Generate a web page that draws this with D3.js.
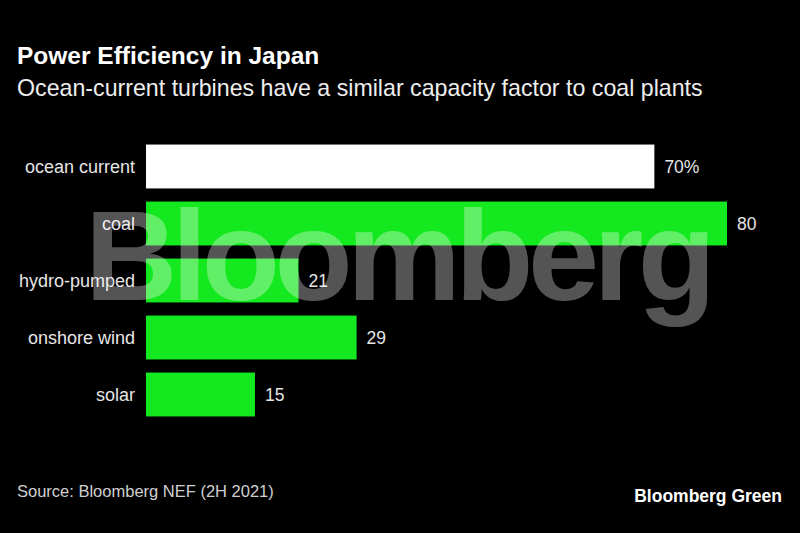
<!DOCTYPE html>
<html><head><meta charset="utf-8">
<script src="https://cdn.jsdelivr.net/npm/d3@7"></script>
<style>html,body{margin:0;padding:0;background:#000;}svg{display:block;}</style>
</head><body>
<svg id="c" width="800" height="533"></svg>
<script>
const categories = ["ocean current","coal","hydro-pumped","onshore wind","solar"];
const values = [70,80,21,29,15];
const valueLabels = ["70%","80","21","29","15"];
const barColors = ["#ffffff","#14e81e","#14e81e","#14e81e","#14e81e"];

const svg = d3.select("#c");
svg.append("rect").attr("width",800).attr("height",533).attr("fill","#000");
const font = "'Liberation Sans', Arial, Helvetica, sans-serif";

svg.append("text").attr("x",17).attr("y",64).attr("fill","#fff")
  .attr("font-family",font).attr("font-weight","bold").attr("font-size",24.5)
  .text("Power Efficiency in Japan");
svg.append("text").attr("x",17).attr("y",96).attr("fill","#eee")
  .attr("font-family",font).attr("font-size",23.2)
  .text("Ocean-current turbines have a similar capacity factor to coal plants");

const x = d3.scaleLinear().domain([0,80]).range([146,727]);
const y = d3.scaleBand().domain(categories).range([138,423]).paddingInner(0.23).paddingOuter(0.115);

svg.selectAll("rect.bar").data(categories).enter().append("rect").attr("class","bar")
  .attr("x",x(0)).attr("y",d=>y(d)).attr("height",y.bandwidth())
  .attr("width",(d,i)=>x(values[i])-x(0)).attr("fill",(d,i)=>barColors[i]);

svg.selectAll("text.cat").data(categories).enter().append("text").attr("class","cat")
  .attr("x",135).attr("y",d=>y(d)+y.bandwidth()/2).attr("dy","0.35em")
  .attr("text-anchor","end").attr("fill","#e6e6e6")
  .attr("font-family",font).attr("font-size",18).text(d=>d);

svg.selectAll("text.val").data(categories).enter().append("text").attr("class","val")
  .attr("x",(d,i)=>x(values[i])+10).attr("y",d=>y(d)+y.bandwidth()/2).attr("dy","0.35em")
  .attr("fill","#e6e6e6").attr("font-family",font).attr("font-size",17.5)
  .text((d,i)=>valueLabels[i]);

// watermark
svg.append("text").attr("x",85).attr("y",300).attr("fill","#fff").attr("fill-opacity",0.33)
  .attr("font-family",font).attr("font-weight","bold").attr("font-size",128)
  .attr("textLength",631).attr("lengthAdjust","spacing")
  .text("Bloomberg");

svg.append("text").attr("x",17).attr("y",497).attr("fill","#d0d0d0")
  .attr("font-family",font).attr("font-size",16.5)
  .text("Source: Bloomberg NEF (2H 2021)");
svg.append("text").attr("x",782).attr("y",502).attr("text-anchor","end").attr("fill","#fff")
  .attr("font-family",font).attr("font-weight","bold").attr("font-size",17.5)
  .text("Bloomberg Green");
</script>
</body></html>
